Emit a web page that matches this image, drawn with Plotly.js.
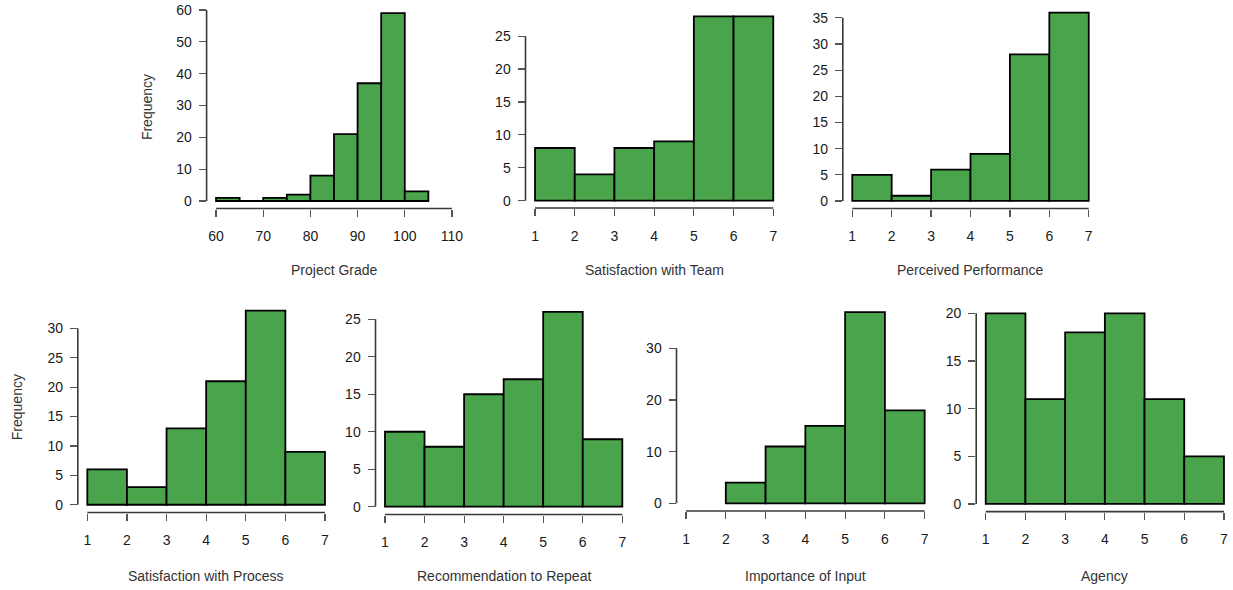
<!DOCTYPE html>
<html>
<head>
<meta charset="utf-8">
<script src="https://cdn.plot.ly/plotly-3.0.1.min.js"></script>
<style>html,body{margin:0;padding:0;background:#fff;}#chart{width:1233px;height:590px;}</style>
</head>
<body>
<div id="chart"></div>
<script>
// ---- Data ----
const titles = ["Project Grade", "Satisfaction with Team", "Perceived Performance",
  "Satisfaction with Process", "Recommendation to Repeat", "Importance of Input", "Agency"];

const gradeBreaks = [60, 65, 70, 75, 80, 85, 90, 95, 100, 105];
const gradeCounts = [1, 0, 1, 2, 8, 21, 37, 59, 3];

const likertBreaks = [1, 2, 3, 4, 5, 6, 7];
const teamCounts = [8, 4, 8, 9, 28, 28];
const performanceCounts = [5, 1, 6, 9, 28, 36];
const processCounts = [6, 3, 13, 21, 33, 9];
const repeatCounts = [10, 8, 15, 17, 26, 9];
const inputBreaks = [2, 3, 4, 5, 6, 7];
const inputCounts = [4, 11, 15, 37, 18];
const agencyCounts = [20, 11, 18, 20, 11, 5];

const gradeTicks = [60, 70, 80, 90, 100, 110];
const likertTicks = [1, 2, 3, 4, 5, 6, 7];
const yTicks10to60 = [0, 10, 20, 30, 40, 50, 60];
const yTicks5to25 = [0, 5, 10, 15, 20, 25];
const yTicks5to35 = [0, 5, 10, 15, 20, 25, 30, 35];
const yTicks5to30 = [0, 5, 10, 15, 20, 25, 30];
const yTicks10to30 = [0, 10, 20, 30];
const yTicks5to20 = [0, 5, 10, 15, 20];

// ---- Panel layout (pixel boxes of each plot region) ----
const W = 1233, H = 590;
const panels = [
  {breaks: gradeBreaks, counts: gradeCounts, xlim: [60, 110], xt: gradeTicks, yt: yTicks10to60, box: [206.6, 461.4, 5.7, 208.5], ylab: true, row: 0},
  {breaks: likertBreaks, counts: teamCounts, xlim: [1, 7], xt: likertTicks, yt: yTicks5to25, box: [525.5, 782.8, 9.0, 208.0], ylab: false, row: 0},
  {breaks: likertBreaks, counts: performanceCounts, xlim: [1, 7], xt: likertTicks, yt: yTicks5to35, box: [842.8, 1098.2, 5.0, 208.5], ylab: false, row: 0},
  {breaks: likertBreaks, counts: processCounts, xlim: [1, 7], xt: likertTicks, yt: yTicks5to30, box: [77.8, 334.5, 302.9, 512.5], ylab: true, row: 1},
  {breaks: likertBreaks, counts: repeatCounts, xlim: [1, 7], xt: likertTicks, yt: yTicks5to25, box: [375.5, 631.8, 304.0, 514.5], ylab: false, row: 1},
  {breaks: inputBreaks, counts: inputCounts, xlim: [1, 7], xt: likertTicks, yt: yTicks10to30, box: [676.5, 934.2, 304.5, 511.0], ylab: false, row: 1},
  {breaks: likertBreaks, counts: agencyCounts, xlim: [1, 7], xt: likertTicks, yt: yTicks5to20, box: [976.2, 1233.5, 305.7, 511.6], ylab: false, row: 1}
];

const FONT = "Liberation Sans, Arial, Helvetica, sans-serif";
const GREEN = "#4aa44c";
const traces = [];
const layout = {
  width: W, height: H,
  margin: {l: 0, r: 0, t: 0, b: 0},
  paper_bgcolor: "#ffffff", plot_bgcolor: "rgba(0,0,0,0)",
  showlegend: false, bargap: 0,
  font: {family: FONT, size: 14, color: "#1a1a1a"},
  shapes: [], annotations: []
};

panels.forEach((p, i) => {
  const n = i + 1;
  const xa = n === 1 ? "xaxis" : "xaxis" + n;
  const ya = n === 1 ? "yaxis" : "yaxis" + n;
  const xr = n === 1 ? "x" : "x" + n;
  const yr = n === 1 ? "y" : "y" + n;
  const centers = p.counts.map((c, k) => (p.breaks[k] + p.breaks[k + 1]) / 2);
  const widths = p.counts.map((c, k) => p.breaks[k + 1] - p.breaks[k]);
  traces.push({
    type: "bar", x: centers, y: p.counts, width: widths,
    xaxis: xr, yaxis: yr, cliponaxis: false,
    marker: {color: GREEN, line: {color: "#000", width: 1.8}},
    hoverinfo: "x+y"
  });
  const xspan = p.xlim[1] - p.xlim[0];
  const ymax = Math.max(...p.counts);
  let [l, r, t, b] = p.box;
  let x0 = p.xlim[0] - 0.04 * xspan, x1 = p.xlim[1] + 0.04 * xspan;
  const pxPerX = (r - l) / (x1 - x0);
  if (r > W) { x1 -= (r - W) / pxPerX; r = W; }
  layout[xa] = {
    domain: [l / W, r / W], range: [x0, x1], anchor: yr,
    tickmode: "array", tickvals: p.xt, ticktext: p.xt.map(String),
    ticks: "outside", ticklen: 7, tickwidth: 1.2, tickcolor: "#555",
    showgrid: false, zeroline: false, showline: false, fixedrange: true,
    ticklabelstandoff: 8,
    tickfont: {family: FONT, size: 14, color: "#1a1a1a"}
  };
  layout[ya] = {
    domain: [1 - b / H, 1 - t / H], range: [-0.04 * ymax, 1.04 * ymax], anchor: xr,
    tickmode: "array", tickvals: p.yt, ticktext: p.yt.map(String),
    ticks: "outside", ticklen: 7, tickwidth: 1.2, tickcolor: "#555",
    showgrid: false, zeroline: false, showline: false, fixedrange: true,
    ticklabelstandoff: 4,
    tickfont: {family: FONT, size: 14, color: "#1a1a1a"}
  };
  // R-style axis lines spanning only the tick range
  layout.shapes.push({type: "line", xref: xr, yref: yr + " domain",
    x0: p.xt[0], x1: p.xt[p.xt.length - 1], y0: 0, y1: 0,
    line: {color: "#3a3a3a", width: 1.6}});
  layout.shapes.push({type: "line", xref: xr + " domain", yref: yr,
    x0: 0, x1: 0, y0: p.yt[0], y1: p.yt[p.yt.length - 1],
    line: {color: "#3a3a3a", width: 1.6}});
  const titleY = p.row === 0 ? 270 : 576;
  layout.annotations.push({text: titles[i], xref: xr + " domain", x: 0.5,
    yref: "paper", y: 1 - titleY / H, xanchor: "center", yanchor: "middle",
    showarrow: false, font: {family: FONT, size: 14, color: "#333"}});
  if (p.ylab) {
    const labX = p.row === 0 ? 147 : 16.5;
    layout.annotations.push({text: "Frequency", xref: "paper", x: labX / W,
      yref: yr + " domain", y: 0.5, xanchor: "center", yanchor: "middle",
      textangle: -90, showarrow: false, font: {family: FONT, size: 14, color: "#333"}});
  }
});

Plotly.newPlot("chart", traces, layout, {displayModeBar: false, staticPlot: true});
</script>
</body>
</html>
